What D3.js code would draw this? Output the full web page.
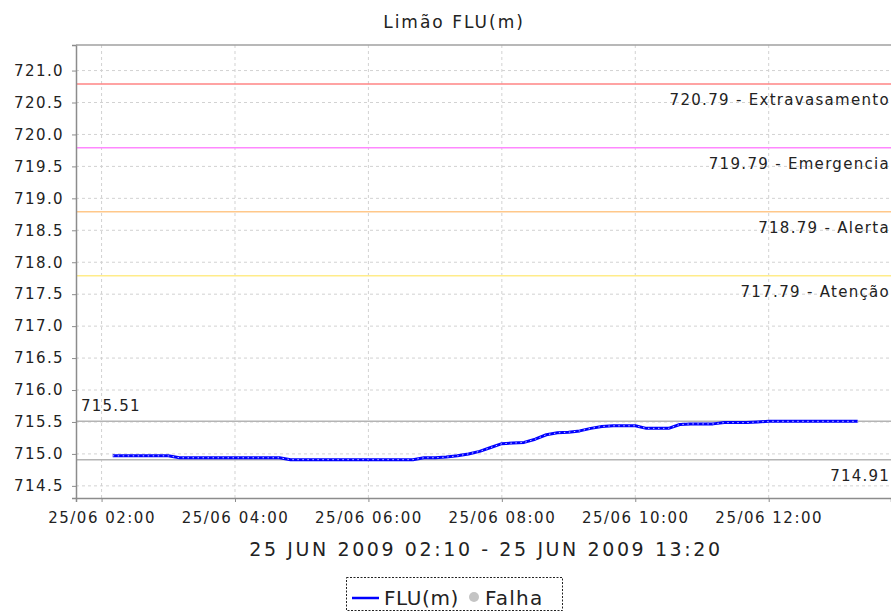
<!DOCTYPE html>
<html><head><meta charset="utf-8">
<script src="https://cdn.jsdelivr.net/npm/d3@7"></script>
<style>
html,body{margin:0;padding:0;background:#fff;}
svg{display:block;}
text{font-family:"DejaVu Sans",sans-serif;fill:#222;}
</style></head>
<body>
<svg id="c" width="891" height="614"></svg>
<script>
const title = "Limão FLU(m)";
const xAxisTitle = "25 JUN 2009 02:10 - 25 JUN 2009 13:20";
const times = ["02:10","02:20","02:30","02:40","02:50","03:00",
"03:10","03:20","03:30","03:40","03:50","04:00","04:10","04:20","04:30","04:40",
"04:50",
"05:00","05:10","05:20","05:30","05:40","05:50","06:00","06:10","06:20","06:30","06:40",
"06:50","07:00","07:10","07:20","07:30","07:40","07:50","08:00","08:10","08:20","08:30","08:40","08:50",
"09:00","09:10","09:20","09:30","09:40","09:50","10:00","10:10","10:20","10:30","10:40","10:50",
"11:00","11:10","11:20","11:30","11:40","11:50","12:00",
"12:10","12:20","12:30","12:40","12:50","13:00","13:10","13:20"];
const levels = [714.97,714.97,714.97,714.97,714.97,714.97,
714.94,714.94,714.94,714.94,714.94,714.94,714.94,714.94,714.94,714.94,
714.91,
714.91,714.91,714.91,714.91,714.91,714.91,714.91,714.91,714.91,714.91,714.91,
714.94,714.94,714.95,714.97,715.00,715.04,715.10,715.16,715.17,715.18,715.23,715.30,715.33,
715.34,715.36,715.40,715.43,715.44,715.44,715.44,715.40,715.40,715.40,715.46,715.47,
715.47,715.47,715.49,715.49,715.49,715.50,715.51,
715.51,715.51,715.51,715.51,715.51,715.51,715.51,715.51];
const thresholdValues = [720.79, 719.79, 718.79, 717.79];
const thresholdNames = ["Extravasamento", "Emergencia", "Alerta", "Atenção"];
const thresholdColors = ["#ff8484", "#ff88ff", "#ffc88a", "#ffec8a"];
const yTicks = [714.5,715.0,715.5,716.0,716.5,717.0,717.5,718.0,718.5,719.0,719.5,720.0,720.5,721.0];
const xTickTimes = ["02:00","04:00","06:00","08:00","10:00","12:00"];
const xDomain = ["01:37","13:50"];
const yDomain = [714.31, 721.40];
const legendItems = ["FLU(m)", "Falha"];

const day = "2009-06-25T";
const parse = s => new Date(day + s + ":00Z");
const data = times.map((t,i)=>({t:parse(t), v:levels[i]}));
const vMin = d3.min(levels), vMax = d3.max(levels);

const svg = d3.select("#c");
const L = 76, R = 891, T = 45, B = 498;
const x = d3.scaleUtc().domain(xDomain.map(parse)).range([L, R]);
const y = d3.scaleLinear().domain(yDomain).range([B, T]);

// grid
const g = svg.append("g");
g.selectAll(".gy").data(yTicks).join("line")
  .attr("x1", L).attr("x2", R).attr("y1", d=>y(d)).attr("y2", d=>y(d))
  .attr("stroke", "#d2d2d2").attr("stroke-dasharray", "3,3");
g.selectAll(".gx").data(xTickTimes.map(parse)).join("line")
  .attr("x1", d=>x(d)).attr("x2", d=>x(d)).attr("y1", T).attr("y2", B)
  .attr("stroke", "#d2d2d2").attr("stroke-dasharray", "3,3");

// thresholds
thresholdValues.forEach((v,i)=>{
  svg.append("line").attr("x1", L).attr("x2", R).attr("y1", y(v)).attr("y2", y(v))
    .attr("stroke", thresholdColors[i]).attr("stroke-width", 1.5);
  svg.append("text").attr("x", 890).attr("y", y(v)+21).attr("text-anchor","end")
    .style("font-size","15px").style("letter-spacing","1.3px")
    .text(d3.format(".2f")(v) + " - " + thresholdNames[i]);
});

// min / max lines
[vMax, vMin].forEach((v,i)=>{
  svg.append("line").attr("x1", L).attr("x2", R).attr("y1", y(v)).attr("y2", y(v))
    .attr("stroke", "#b4b4b4").attr("stroke-width", 1.5);
});
svg.append("text").attr("x", 81).attr("y", y(vMax)-10)
  .style("font-size","15px").style("letter-spacing","1.2px").text(d3.format(".2f")(vMax));
svg.append("text").attr("x", 890).attr("y", y(vMin)+21).attr("text-anchor","end")
  .style("font-size","15px").style("letter-spacing","1.2px").text(d3.format(".2f")(vMin));

// series
const line = d3.line().x(d=>x(d.t)).y(d=>y(d.v));
svg.append("path").datum(data).attr("d", line).attr("fill","none")
  .attr("stroke","#0000ff").attr("stroke-width",3).attr("stroke-linejoin","round");
svg.append("path").datum(data).attr("d", line).attr("fill","none")
  .attr("stroke","#c8c8ff").attr("stroke-width",1).attr("stroke-dasharray","1.5,3.5");

// axes
const yAxis = d3.axisLeft(y).tickValues(yTicks).tickFormat(d3.format(".1f")).tickSize(4).tickPadding(8);
const ya = svg.append("g").attr("transform", `translate(${L},0)`).call(yAxis);
ya.select(".domain").attr("stroke","#8c8c8c").attr("stroke-width",1.5);
ya.selectAll(".tick line").attr("stroke","#8c8c8c");
ya.selectAll(".tick text").style("font-size","15px").style("letter-spacing","1.4px")
  .style("font-family","'DejaVu Sans',sans-serif").attr("fill","#222");

const xAxis = d3.axisBottom(x).tickValues(xTickTimes.map(parse)).tickFormat(d3.utcFormat("%d/%m %H:%M")).tickSize(4).tickPadding(10);
const xa = svg.append("g").attr("transform", `translate(0,${B})`).call(xAxis);
xa.select(".domain").attr("stroke","#8c8c8c").attr("stroke-width",1.5);
xa.selectAll(".tick line").attr("stroke","#8c8c8c");
xa.selectAll(".tick text").style("font-size","15px").style("letter-spacing","1.5px")
  .style("font-family","'DejaVu Sans',sans-serif").attr("fill","#222");

// top border
svg.append("line").attr("x1", L).attr("x2", R).attr("y1", T).attr("y2", T)
  .attr("stroke","#a0a0a0").attr("stroke-width",1.5);

// titles
svg.append("text").attr("x", 454).attr("y", 28).attr("text-anchor","middle")
  .style("font-size","17px").style("letter-spacing","2px").text(title);
svg.append("text").attr("x", 486).attr("y", 556).attr("text-anchor","middle")
  .style("font-size","19px").style("letter-spacing","2.6px").attr("fill","#333").text(xAxisTitle);

// legend
const lg = svg.append("g");
lg.append("rect").attr("x", 346.5).attr("y", 577.5).attr("width", 216).attr("height", 33)
  .attr("fill","none").attr("stroke","#222").attr("stroke-dasharray","2,1.5");
lg.append("line").attr("x1", 352).attr("x2", 379).attr("y1", 598).attr("y2", 598)
  .attr("stroke","#0000ff").attr("stroke-width",2.5);
lg.append("text").attr("x", 384).attr("y", 605).style("font-size","20px").style("letter-spacing","0.6px").text(legendItems[0]);
lg.append("circle").attr("cx", 474).attr("cy", 597).attr("r", 5).attr("fill","#c4c4c4");
lg.append("text").attr("x", 485).attr("y", 605).style("font-size","20px").style("letter-spacing","1.2px").text(legendItems[1]);
</script>
</body></html>
